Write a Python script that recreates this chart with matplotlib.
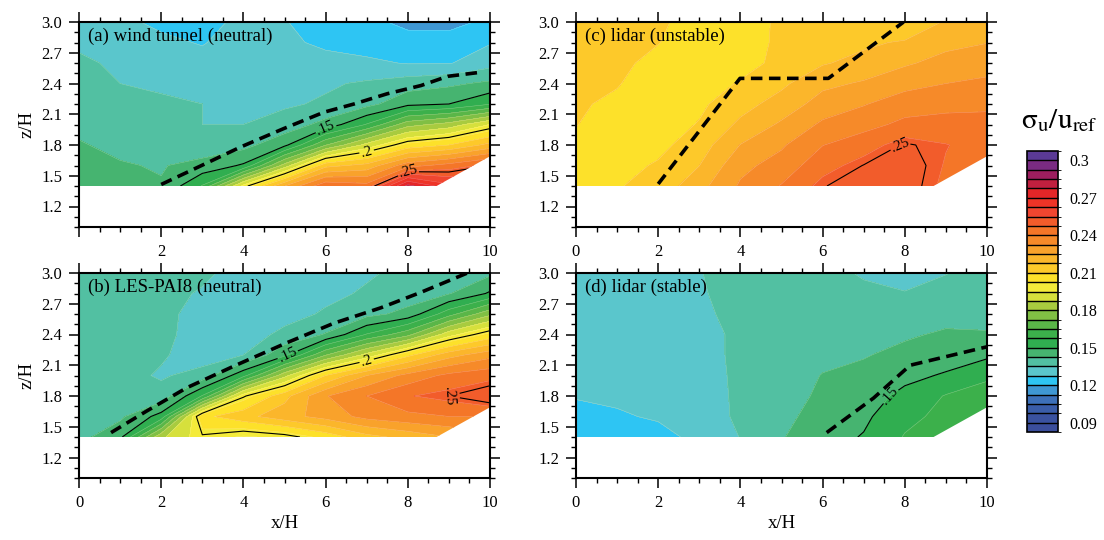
import numpy as np
import matplotlib as mpl
import matplotlib.pyplot as plt
from matplotlib.colors import ListedColormap, BoundaryNorm
from matplotlib.patches import Polygon
from matplotlib.ticker import MultipleLocator

plt.rcParams['font.family'] = ['Liberation Serif', 'DejaVu Serif']
plt.rcParams['mathtext.fontset'] = 'stix'

# grid (x/H, z/H), rows are z levels from bottom to top
x = [0, 1, 2, 3, 4, 5, 6, 7, 8, 9, 10]
z = [1.4, 1.6, 1.8, 2.0, 2.2, 2.4, 2.6, 2.8, 3.0]

# data domain (lower right corner is outside the measurements)
domain_x = [0, 8.7, 10, 10, 0]
domain_z = [1.4, 1.4, 1.69, 3.0, 3.0]

sig_wt = [
    [0.145, 0.144, 0.143, 0.158, 0.197, 0.225, 0.246, 0.243, 0.280, 0.265, 0.260],
    [0.145, 0.143, 0.142, 0.145, 0.151, 0.183, 0.215, 0.220, 0.237, 0.243, 0.250],
    [0.143, 0.141, 0.139, 0.138, 0.140, 0.148, 0.172, 0.190, 0.205, 0.210, 0.220],
    [0.141, 0.140, 0.137, 0.135, 0.135, 0.138, 0.145, 0.158, 0.177, 0.183, 0.195],
    [0.139, 0.137, 0.136, 0.135, 0.134, 0.134, 0.136, 0.140, 0.148, 0.150, 0.157],
    [0.137, 0.135, 0.134, 0.132, 0.132, 0.133, 0.134, 0.136, 0.139, 0.141, 0.144],
    [0.136, 0.134, 0.132, 0.130, 0.131, 0.130, 0.130, 0.129, 0.127, 0.127, 0.132],
    [0.134, 0.131, 0.129, 0.127, 0.131, 0.129, 0.126, 0.124, 0.123, 0.124, 0.127],
    [0.131, 0.129, 0.126, 0.124, 0.130, 0.128, 0.123, 0.122, 0.118, 0.117, 0.122],
]
sig_les = [
    [0.140, 0.148, 0.186, 0.199, 0.194, 0.197, 0.205, 0.215, 0.220, 0.225, 0.230],
    [0.140, 0.141, 0.153, 0.208, 0.215, 0.222, 0.228, 0.235, 0.238, 0.240, 0.240],
    [0.140, 0.139, 0.138, 0.158, 0.199, 0.215, 0.232, 0.240, 0.247, 0.250, 0.255],
    [0.140, 0.138, 0.134, 0.138, 0.155, 0.185, 0.210, 0.225, 0.235, 0.242, 0.245],
    [0.140, 0.138, 0.136, 0.131, 0.135, 0.148, 0.172, 0.190, 0.208, 0.222, 0.230],
    [0.140, 0.138, 0.138, 0.130, 0.131, 0.137, 0.143, 0.158, 0.170, 0.192, 0.205],
    [0.140, 0.138, 0.138, 0.131, 0.129, 0.132, 0.136, 0.140, 0.145, 0.162, 0.178],
    [0.140, 0.138, 0.138, 0.134, 0.130, 0.129, 0.133, 0.136, 0.138, 0.142, 0.151],
    [0.139, 0.138, 0.138, 0.137, 0.131, 0.130, 0.130, 0.134, 0.137, 0.138, 0.141],
]
sig_unstable = [
    [0.2070, 0.2095, 0.2125, 0.2225, 0.2335, 0.2405, 0.2497, 0.2525, 0.2528, 0.2460, 0.2445],
    [0.2080, 0.2075, 0.2108, 0.2174, 0.2305, 0.2355, 0.2448, 0.2502, 0.2532, 0.2470, 0.2445],
    [0.2090, 0.2065, 0.2080, 0.2138, 0.2252, 0.2315, 0.2398, 0.2442, 0.2508, 0.2478, 0.2445],
    [0.2102, 0.2068, 0.2062, 0.2105, 0.2190, 0.2262, 0.2338, 0.2375, 0.2418, 0.2425, 0.2425],
    [0.2110, 0.2085, 0.2055, 0.2085, 0.2148, 0.2205, 0.2282, 0.2320, 0.2365, 0.2380, 0.2385],
    [0.2118, 0.2105, 0.2058, 0.2065, 0.2106, 0.2160, 0.2232, 0.2259, 0.2300, 0.2325, 0.2338],
    [0.2125, 0.2120, 0.2075, 0.2055, 0.2075, 0.2118, 0.2168, 0.2200, 0.2240, 0.2275, 0.2298],
    [0.2132, 0.2130, 0.2103, 0.2052, 0.2065, 0.2115, 0.2145, 0.2160, 0.2185, 0.2230, 0.2248],
    [0.2140, 0.2138, 0.2118, 0.2055, 0.2065, 0.2113, 0.2135, 0.2140, 0.2095, 0.2185, 0.2215],
]
sig_stable = [
    [0.1225, 0.1230, 0.1245, 0.1300, 0.1352, 0.1420, 0.1470, 0.1505, 0.1580, 0.1610, 0.1630],
    [0.1250, 0.1265, 0.1285, 0.1315, 0.1362, 0.1405, 0.1455, 0.1485, 0.1555, 0.1595, 0.1625],
    [0.1280, 0.1290, 0.1300, 0.1320, 0.1362, 0.1390, 0.1440, 0.1465, 0.1520, 0.1580, 0.1600],
    [0.1290, 0.1300, 0.1310, 0.1325, 0.1362, 0.1385, 0.1428, 0.1445, 0.1480, 0.1508, 0.1565],
    [0.1300, 0.1305, 0.1310, 0.1330, 0.1362, 0.1380, 0.1405, 0.1420, 0.1445, 0.1465, 0.1485],
    [0.1300, 0.1310, 0.1315, 0.1330, 0.1362, 0.1380, 0.1390, 0.1400, 0.1415, 0.1435, 0.1430],
    [0.1300, 0.1310, 0.1320, 0.1340, 0.1365, 0.1375, 0.1380, 0.1380, 0.1390, 0.1400, 0.1405],
    [0.1305, 0.1310, 0.1330, 0.1345, 0.1368, 0.1370, 0.1370, 0.1360, 0.1352, 0.1370, 0.1380],
    [0.1310, 0.1315, 0.1335, 0.1348, 0.1370, 0.1370, 0.1365, 0.1345, 0.1335, 0.1348, 0.1370],
]

# dashed boundary-layer top lines
ibl_wt_x = [2.0, 2.95, 3.93, 4.98, 5.96, 6.69, 7.5, 8.32, 8.97, 9.78]
ibl_wt_z = [1.415, 1.594, 1.78, 1.96, 2.12, 2.20, 2.30, 2.38, 2.47, 2.51]
ibl_les_x = [0.78, 1.65, 2.62, 3.76, 5.06, 6.2, 7.34, 8.31, 9.45]
ibl_les_z = [1.443, 1.654, 1.88, 2.09, 2.32, 2.51, 2.66, 2.81, 3.0]
ibl_uns_x = [2.0, 3.99, 6.14, 7.97]
ibl_uns_z = [1.42, 2.45, 2.45, 3.0]
ibl_sta_x = [6.1, 7.24, 8.13, 10.0]
ibl_sta_z = [1.443, 1.78, 2.10, 2.28]

titles = ['(a) wind tunnel (neutral)', '(b) LES-PAI8 (neutral)',
          '(c) lidar (unstable)', '(d) lidar (stable)']

cb_ticks = [0.09, 0.12, 0.15, 0.18, 0.21, 0.24, 0.27, 0.30]
cb_labels = ['0.09', '0.12', '0.15', '0.18', '0.21', '0.24', '0.27', '0.3']

colors = ['#3b4e9c', '#3a52a0', '#3a5da9', '#3d70b9', '#3f97d3', '#2ec5f3',
          '#5ac6cc', '#52c0a2', '#46b470', '#30ae50', '#3cb04b', '#5ab648',
          '#80bf44', '#a8cb3f', '#d6e03c', '#f4eb3a', '#fde12a', '#fdc92a',
          '#fbb62b', '#f9a22b', '#f68a29', '#f47628', '#f25c2b', '#f04630',
          '#ee3427', '#e42628', '#c0203f', '#9c1e5f', '#7a2b82', '#5b3a96']
levels = np.concatenate(([0.0], np.linspace(0.09, 0.30, 29), [1.0]))
cmap = ListedColormap(colors)
norm = BoundaryNorm(levels, cmap.N)

X, Z = np.meshgrid(x, z)

def fmt(v):
    return ('%.2f' % v).lstrip('0').rstrip('0')

fig = plt.figure(figsize=(11.04, 5.40), dpi=100)
W, H = 1104.0, 540.0
boxes = [(79, 22), (79, 273), (576, 22), (576, 273)]
fields = [sig_wt, sig_les, sig_unstable, sig_stable]
ibls = [(ibl_wt_x, ibl_wt_z), (ibl_les_x, ibl_les_z),
        (ibl_uns_x, ibl_uns_z), (ibl_sta_x, ibl_sta_z)]

for i in range(4):
    l, t = boxes[i]
    ax = fig.add_axes([l / W, 1 - (t + 205) / H, 411 / W, 205 / H])
    data = np.array(fields[i])
    clip = Polygon(np.column_stack([domain_x, domain_z]), closed=True,
                   transform=ax.transData, facecolor='none', edgecolor='none')
    cf = ax.contourf(X, Z, data, levels=levels, cmap=cmap, norm=norm)
    cf.set_clip_path(clip)
    ce = ax.contour(X, Z, data, levels=levels[1:-1], colors='white',
                    linewidths=0.35, alpha=0.35)
    ce.set_clip_path(clip)
    cl = ax.contour(X, Z, data, levels=[0.15, 0.2, 0.25], colors='k',
                    linewidths=0.8)
    cl.set_clip_path(clip)
    ax.clabel(cl, fmt=fmt, fontsize=10.5, inline=True, inline_spacing=2)
    ax.plot(ibls[i][0], ibls[i][1], color='k', lw=2.6,
            ls=(0, (3.2, 1.8)), dash_capstyle='butt')

    ax.set_xlim(0, 10)
    ax.set_ylim(1.0, 3.0)
    ax.xaxis.set_major_locator(MultipleLocator(2))
    ax.xaxis.set_minor_locator(MultipleLocator(0.5))
    ax.yaxis.set_major_locator(MultipleLocator(0.3))
    ax.yaxis.set_minor_locator(MultipleLocator(0.1))
    ax.set_yticks([1.2, 1.5, 1.8, 2.1, 2.4, 2.7, 3.0])
    ax.set_yticklabels(['1.2', '1.5', '1.8', '2.1', '2.4', '2.7', '3.0'])
    if i == 0:
        ax.set_xticks([0, 2, 4, 6, 8, 10])
        ax.set_xticklabels(['', '2', '4', '6', '8', '10'])
    ax.tick_params(which='both', direction='out', top=True, right=True,
                   labelsize=12, pad=5)
    ax.tick_params(which='major', length=7, width=1.1)
    ax.tick_params(which='minor', length=3.5, width=1.0)
    for s in ax.spines.values():
        s.set_linewidth(1.5)
    ax.text(0.022, 0.93, titles[i], transform=ax.transAxes, fontsize=13.5,
            va='center', ha='left')
    if i in (0, 1):
        ax.set_ylabel('z/H', fontsize=13.5, labelpad=4)
    if i in (1, 3):
        ax.set_xlabel('x/H', fontsize=13.5, labelpad=3)
    if i == 0:
        cf_ref = cf

cax = fig.add_axes([1027 / W, 1 - 432 / H, 31 / W, 281 / H])
cb = fig.colorbar(cf_ref, cax=cax, drawedges=True, ticks=cb_ticks)
cb.set_ticklabels(cb_labels)
cb.ax.tick_params(length=0, labelsize=11.5, pad=8)
cb.outline.set_linewidth(1.2)
cb.dividers.set_linewidth(1.0)
fig.text(1059 / W, 1 - 121 / H, r'$\mathrm{σ_u/u_{ref}}$',
         fontsize=21, ha='center', va='center')

fig.savefig('out.png', dpi=100)
